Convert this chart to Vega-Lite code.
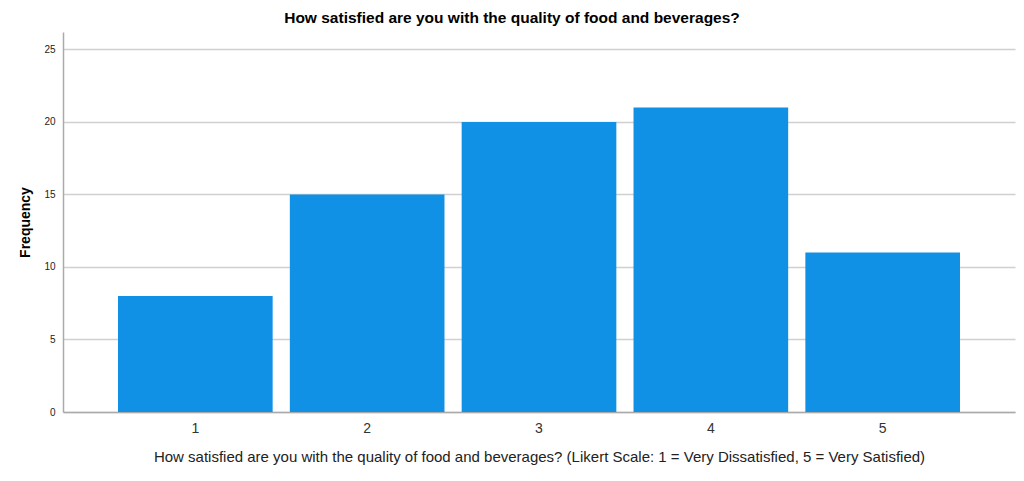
{
  "$schema": "https://vega.github.io/schema/vega-lite/v6.json",
  "autosize": {"type": "none"},
  "padding": {"left": 63, "top": 32, "right": 9, "bottom": 69},
  "width": 952,
  "height": 380,
  "background": "white",
  "title": {"text": "How satisfied are you with the quality of food and beverages?", "font": "Liberation Sans", "fontSize": 15.5, "fontWeight": "bold", "color": "#000000", "anchor": "middle", "offset": 6, "dx": -27},
  "data": {"values": [
    {"rating": "1", "count": 8},
    {"rating": "2", "count": 15},
    {"rating": "3", "count": 20},
    {"rating": "4", "count": 21},
    {"rating": "5", "count": 11}
  ]},
  "mark": {"type": "bar", "color": "#1191E6"},
  "encoding": {
    "x": {"field": "rating", "type": "ordinal",
      "scale": {"paddingInner": 0.1, "paddingOuter": 0.32},
      "axis": {"title": "How satisfied are you with the quality of food and beverages? (Likert Scale: 1 = Very Dissatisfied, 5 = Very Satisfied)",
        "titleFont": "Liberation Sans", "titleFontSize": 15, "titleFontWeight": "normal", "titleColor": "#222222", "titlePadding": 14,
        "labelAngle": 0, "labelFont": "Liberation Sans", "labelFontSize": 14, "labelColor": "#333333", "labelPadding": 9,
        "ticks": false, "domainColor": "#aaaaaa", "domainWidth": 1.5}},
    "y": {"field": "count", "type": "quantitative",
      "scale": {"domain": [0, 26.2], "nice": false},
      "axis": {"title": "Frequency", "titleFont": "Liberation Sans", "titleFontSize": 14, "titleFontWeight": "bold", "titleColor": "#000000", "titlePadding": 11,
        "values": [0, 5, 10, 15, 20, 25], "labelFont": "Liberation Sans", "labelFontSize": 10, "labelColor": "#222222", "labelPadding": 8,
        "ticks": false, "domainColor": "#aaaaaa", "domainWidth": 1.5,
        "grid": true, "gridColor": "#d0d0d0", "gridWidth": 1.5}}
  },
  "config": {"view": {"stroke": null}}
}
